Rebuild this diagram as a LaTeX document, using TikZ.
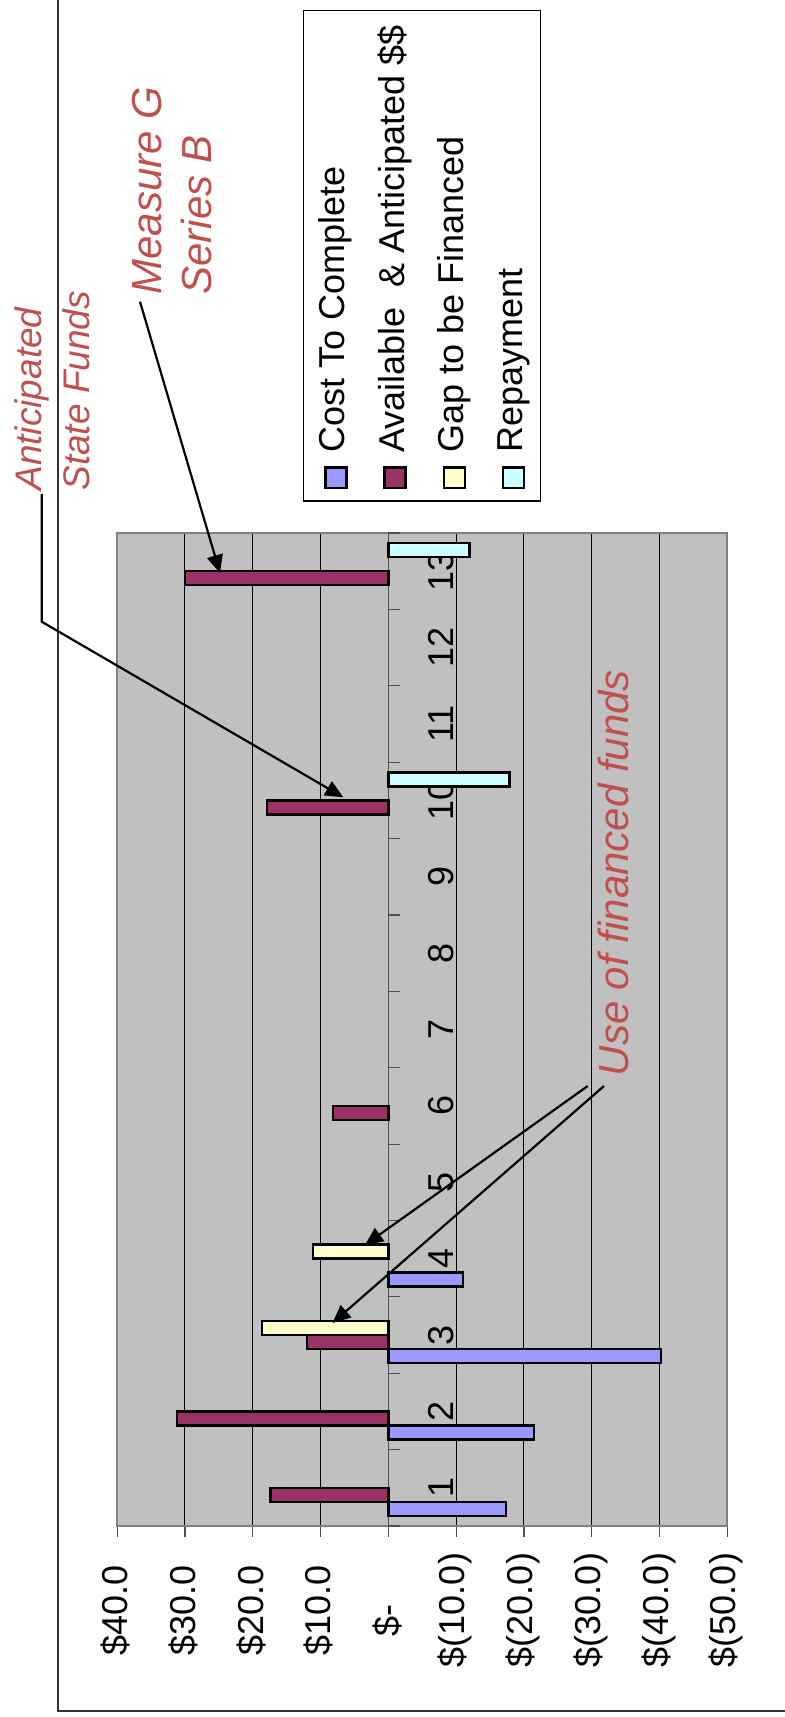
\documentclass[tikz,border=0pt]{standalone}
\usepackage{fontspec}
\setmainfont{Liberation Sans}
\usetikzlibrary{arrows.meta}
\definecolor{costc}{HTML}{9999FF}
\definecolor{availc}{HTML}{993366}
\definecolor{gapc}{HTML}{FFFFCC}
\definecolor{repc}{HTML}{CCFFFF}
\definecolor{plotbg}{HTML}{C0C0C0}
\definecolor{plotborder}{HTML}{808080}
\definecolor{axisgrey}{HTML}{505050}
\definecolor{annotred}{HTML}{C0504D}
\newcommand{\mybar}[4]{%
  \pgfmathsetmacro{\yb}{1526-(#1-1)*76.38-10.2-#2*14}%
  \pgfmathsetmacro{\yt}{\yb-14}%
  \pgfmathsetmacro{\xe}{388.3-6.78*(#3)}%
  \draw[barline,fill=#4] (388.3,\yb) rectangle (\xe,\yt);}
\begin{document}
\begin{tikzpicture}[x=0.5pt,y=-0.5pt,
  barline/.style={draw=black,line width=1.2pt},
  gridline/.style={black,line width=0.5pt},
  callout/.style={draw=black,line width=1.1pt,-{Triangle[length=9pt,width=8pt]}},
  annot/.style={text=annotred,rotate=90,inner sep=0pt,anchor=base west},
  legtext/.style={font=\fontsize{18}{22}\selectfont,rotate=90,inner sep=0pt,anchor=base west},
  vlab/.style={font=\fontsize{18}{22}\selectfont,rotate=90,inner sep=0pt},
  clab/.style={font=\fontsize{18}{22}\selectfont,rotate=90,inner sep=0pt,anchor=base},
  legmark/.style={draw=black,line width=1.2pt}
]
\useasboundingbox (0,0) rectangle (785,1717);
\fill[white] (0,0) rectangle (785,1717);
% outer chart frame
\draw[line width=0.6pt,black!80] (58,-10) -- (58,1711) -- (800,1711);
% plot area
\fill[plotbg] (117,533) rectangle (727,1526);
\foreach \v in {-50,-40,...,40}{
  \pgfmathsetmacro{\xx}{388.3-6.78*(\v)}
  \draw[gridline] (\xx,533) -- (\xx,1526);
  \draw[axisgrey,line width=0.6pt] (\xx,1526) -- (\xx,1537);
}
\draw[plotborder,line width=1.25pt] (117,533) rectangle (727,1526);
% category axis
\draw[axisgrey,line width=0.6pt] (388.3,533) -- (388.3,1526);
\foreach \j in {0,...,13}{
  \pgfmathsetmacro{\yy}{1526-\j*76.38}
  \draw[axisgrey,line width=0.6pt] (388.3,\yy) -- (400,\yy);
}
% category labels
\foreach \c in {1,...,13}{
  \pgfmathsetmacro{\yy}{1526-(\c-0.5)*76.38}
  \node[clab] (cat\c) at (453,\yy) {\c};
}
% value labels
\node[vlab] (v40) at (115.5,1610) {\$40.0};
\node[vlab] (v30) at (183.3,1610) {\$30.0};
\node[vlab] (v20) at (251.1,1610) {\$20.0};
\node[vlab] (v10) at (318.9,1610) {\$10.0};
\node[vlab] (v0) at (387,1620) {\$-};
\node[vlab] (vm10) at (455,1610) {\$(10.0)};
\node[vlab] (vm20) at (522.8,1610) {\$(20.0)};
\node[vlab] (vm30) at (590.6,1610) {\$(30.0)};
\node[vlab] (vm40) at (658.4,1610) {\$(40.0)};
\node[vlab] (vm50) at (726.2,1610) {\$(50.0)};
% bars
\mybar{1}{0}{-17.35}{costc}
\mybar{1}{1}{17.35}{availc}
\mybar{2}{0}{-21.45}{costc}
\mybar{2}{1}{31.15}{availc}
\mybar{3}{0}{-40.25}{costc}
\mybar{3}{1}{11.95}{availc}
\mybar{3}{2}{18.65}{gapc}
\mybar{4}{0}{-11.05}{costc}
\mybar{4}{2}{11.15}{gapc}
\mybar{6}{1}{8.2}{availc}
\mybar{10}{1}{17.85}{availc}
\mybar{10}{3}{-17.85}{repc}
\mybar{13}{1}{29.95}{availc}
\mybar{13}{3}{-11.95}{repc}
% legend
\draw[black,line width=0.6pt,fill=white] (303.3,10.7) rectangle (540.3,501);
\draw[legmark,fill=costc] (325.3,467.3) rectangle (346.3,487.7);
\draw[legmark,fill=availc] (384.6,467.3) rectangle (405.6,487.7);
\draw[legmark,fill=gapc] (443.9,467.3) rectangle (464.9,487.7);
\draw[legmark,fill=repc] (503.2,467.3) rectangle (524.2,487.7);
\node[legtext] (lcost) at (344.7,453.3) {Cost To Complete};
\node[legtext] (lavail) at (404,453.3) {Available\ \ \& Anticipated \$\$};
\node[legtext] (lgap) at (463.3,453.3) {Gap to be Financed};
\node[legtext] (lrep) at (522.6,453.3) {Repayment};
% annotations
\node[annot,font=\fontsize{18.5}{22}\selectfont\itshape] (ant1) at (41.5,491) {Anticipated};
\node[annot,font=\fontsize{18.5}{22}\selectfont\itshape] (ant2) at (89,491) {State Funds};
\node[annot,font=\fontsize{21}{25}\selectfont\itshape] (mg1) at (161.7,295) {Measure G};
\node[annot,font=\fontsize{21}{25}\selectfont\itshape] (mg2) at (211.7,295) {Series B};
\node[annot,font=\fontsize{21}{25}\selectfont\itshape] (use) at (628.3,1076.7) {Use of financed funds};
% callout arrows
\coordinate (asfA) at (41.7,494);
\coordinate (asfB) at (41.7,621.7);
\coordinate (asfT) at (343.3,797.3);
\coordinate (mgA) at (140,301.7);
\coordinate (mgT) at (220,573);
\coordinate (ufA) at (587.7,1086);
\coordinate (ufB) at (604,1086);
\coordinate (ufT4) at (365,1245);
\coordinate (ufT3) at (332.5,1323);
\draw[callout] (asfA) -- (asfB) -- (asfT);
\draw[callout] (mgA) -- (mgT);
\draw[callout] (ufA) -- (ufT4);
\draw[callout] (ufB) -- (ufT3);
\end{tikzpicture}
\end{document}
